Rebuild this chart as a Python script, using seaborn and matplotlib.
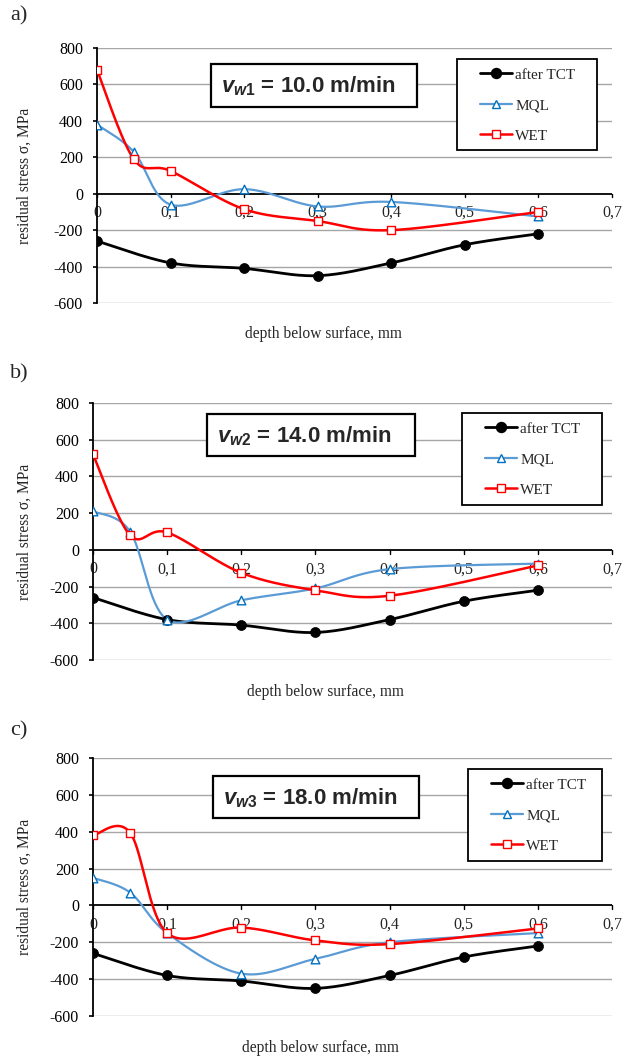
import numpy as np
import pandas as pd
import matplotlib
matplotlib.use("Agg")
import matplotlib.pyplot as plt
from matplotlib.lines import Line2D
from matplotlib.patches import Rectangle
import seaborn as sns

# depth positions, mm
depth_tct = [0.0, 0.1, 0.2, 0.3, 0.4, 0.5, 0.6]
depth_cool = [0.0, 0.05, 0.1, 0.2, 0.3, 0.4, 0.6]

# residual stress, MPa (after TCT is the same reference curve in every panel)
stress_tct = [-260, -380, -410, -450, -380, -280, -220]

mql_a = [380, 230, -60, 25, -70, -45, -125]
wet_a = [680, 190, 125, -85, -150, -200, -100]

mql_b = [210, 100, -380, -275, -210, -105, -75]
wet_b = [520, 80, 95, -125, -220, -250, -85]

mql_c = [150, 70, -150, -370, -290, -200, -150]
wet_c = [380, 395, -150, -120, -190, -210, -125]

panel_letters = ["a)", "b)", "c)"]
speed_labels = [("w1", "10.0"), ("w2", "14.0"), ("w3", "18.0")]
series_names = ["after TCT", "MQL", "WET"]

y_ticks = [-600, -400, -200, 0, 200, 400, 600, 800]
x_ticks = [0, 0.1, 0.2, 0.3, 0.4, 0.5, 0.6, 0.7]
x_ticklabels = ["0", "0,1", "0,2", "0,3", "0,4", "0,5", "0,6", "0,7"]

BLACK = "#000000"
BLUE_LINE = "#5B9BD5"
BLUE_EDGE = "#0070C0"
RED = "#FF0000"
SERIF = "Liberation Serif"
SANS = "Liberation Sans"


def excel_smooth(xs, ys, n=40):
    """Excel-style smoothed line: cubic Bezier through the points."""
    p = np.column_stack([xs, ys]).astype(float)
    out = []
    for i in range(len(p) - 1):
        p0 = p[i - 1] if i > 0 else p[i]
        p3 = p[i + 2] if i + 2 < len(p) else p[i + 1]
        c1 = p[i] + (p[i + 1] - p0) / 6.0
        c2 = p[i + 1] - (p3 - p[i]) / 6.0
        t = np.linspace(0, 1, n)[:, None]
        seg = ((1 - t) ** 3) * p[i] + 3 * ((1 - t) ** 2) * t * c1 \
            + 3 * (1 - t) * t ** 2 * c2 + t ** 3 * p[i + 1]
        out.append(seg if i == 0 else seg[1:])
    out = np.vstack(out)
    return pd.DataFrame({"x": out[:, 0], "y": out[:, 1]})


def draw_series(ax, xs, ys, color, lw, marker, msize, mface, medge, mew):
    curve = excel_smooth(xs, ys)
    sns.lineplot(data=curve, x="x", y="y", sort=False, estimator=None,
                 color=color, lw=lw, ax=ax, zorder=3)
    sns.scatterplot(x=xs, y=ys, marker=marker, s=msize ** 2, color=mface,
                    edgecolor=medge, linewidth=mew, ax=ax, zorder=4)


sns.set_theme(style="white")
plt.rcParams["font.family"] = [SERIF, "DejaVu Serif"]
plt.rcParams["mathtext.fontset"] = "custom"
plt.rcParams["mathtext.it"] = "Liberation Sans:italic:bold"
plt.rcParams["mathtext.rm"] = "Liberation Sans:bold"
plt.rcParams["mathtext.bf"] = "Liberation Sans:bold"

W, H = 636, 1058
fig = plt.figure(figsize=(W / 100, H / 100), dpi=100)

# pixel geometry of each panel: left, right, top, bottom
panels_px = [(97, 612, 48, 303), (93, 612, 403, 660), (93, 612, 758, 1016)]
box_px = [(211, 417, 64, 107), (207, 415, 414, 456), (213, 419, 776, 818)]
legend_px = [(457, 597, 59, 150), (462, 602, 413, 505), (468, 602, 769, 861)]
letter_y = [16, 374, 731]
xlabel_px = [(323, 334), (325, 692), (320, 1048)]

mql_all = [mql_a, mql_b, mql_c]
wet_all = [wet_a, wet_b, wet_c]

for k in range(3):
    l, r, t, b = panels_px[k]
    pw, ph = r - l, b - t
    ax = fig.add_axes([l / W, 1 - b / H, pw / W, ph / H])
    ax.set_xlim(0, 0.7)
    ax.set_ylim(-600, 800)

    # horizontal gridlines
    for yv in y_ticks:
        if yv != 0:
            ax.axhline(yv, color="#A6A6A6", lw=1.0, zorder=1)

    for s in ["top", "right", "bottom"]:
        ax.spines[s].set_visible(False)
    ax.spines["left"].set_color("black")
    ax.spines["left"].set_linewidth(1.3)
    ax.spines["left"].set_zorder(2)
    ax.axhline(0, color="black", lw=1.3, zorder=2)
    # x tick marks drawn down from the zero line
    for xv in x_ticks:
        ax.plot([xv, xv], [0, -20], color="black", lw=1.0, zorder=2,
                clip_on=False)

    ax.set_yticks(y_ticks)
    ax.set_yticklabels([str(v) for v in y_ticks], fontsize=11.5, family=SERIF)
    ax.tick_params(axis="y", direction="out", length=3, width=1.2,
                   pad=7, left=True, colors="black")
    ax.set_xticks([])
    for xv, lab in zip(x_ticks, x_ticklabels):
        ax.text(xv, -62, lab, ha="center", va="top", fontsize=11.5,
                family=SERIF, zorder=2)

    ax.set_xlabel("")
    ax.set_ylabel("residual stress σ, MPa", fontsize=11.2, family=SERIF)
    ax.yaxis.set_label_coords((33 - l) / pw, 0.5)

    draw_series(ax, depth_tct, stress_tct, BLACK, 2.0, "o", 7.2,
                BLACK, BLACK, 0.5)
    draw_series(ax, depth_cool, mql_all[k], BLUE_LINE, 1.6, "^", 6.2,
                "white", BLUE_EDGE, 1.0)
    draw_series(ax, depth_cool, wet_all[k], RED, 1.8, "s", 6.2,
                "white", RED, 1.0)

    # speed box
    bl, br, bt, bb = box_px[k]
    ax.add_patch(Rectangle(((bl - l) / pw, 1 - (bb - t) / ph),
                           (br - bl) / pw, (bb - bt) / ph,
                           transform=ax.transAxes, fc="white", ec="black",
                           lw=1.6, zorder=5))
    sub, val = speed_labels[k]
    ax.text((bl + 10 - l) / pw, 1 - ((bt + bb) / 2 + 1 - t) / ph,
            r"$\mathit{v}_{\mathit{%s}}$ = %s m/min" % (sub, val),
            transform=ax.transAxes, ha="left", va="center", fontsize=16,
            family=SANS, fontweight="bold", zorder=6)

    # legend: frame drawn as a patch, entries placed inside it
    gl, gr, gt, gb = legend_px[k]
    ax.add_patch(Rectangle(((gl - l) / pw, 1 - (gb - t) / ph),
                           (gr - gl) / pw, (gb - gt) / ph,
                           transform=ax.transAxes, fc="white", ec="black",
                           lw=1.3, zorder=5))
    handles = [
        Line2D([], [], color=BLACK, lw=2.0, marker="o", ms=7.2, mfc=BLACK,
               mec=BLACK),
        Line2D([], [], color=BLUE_LINE, lw=1.6, marker="^", ms=6.2,
               mfc="white", mec=BLUE_EDGE, mew=1.0),
        Line2D([], [], color=RED, lw=1.8, marker="s", ms=6.2, mfc="white",
               mec=RED, mew=1.0),
    ]
    leg = ax.legend(handles, series_names,
                    bbox_to_anchor=((gl + 23 - l) / pw, 1 - (gt + 9 - t) / ph),
                    loc="upper left", frameon=False,
                    prop={"family": SERIF, "size": 11},
                    handlelength=2.1, handletextpad=0.2, labelspacing=1.1,
                    borderpad=0, borderaxespad=0)
    leg.set_zorder(6)

    # x axis title and panel letter
    xl, yl = xlabel_px[k]
    fig.text(xl / W, 1 - yl / H, "depth below surface, mm", ha="center",
             va="center", fontsize=11.2, family=SERIF)
    fig.text(10 / W, 1 - letter_y[k] / H, panel_letters[k], ha="left",
             va="center", fontsize=16, family=SERIF)

fig.savefig("out.png", dpi=100)
